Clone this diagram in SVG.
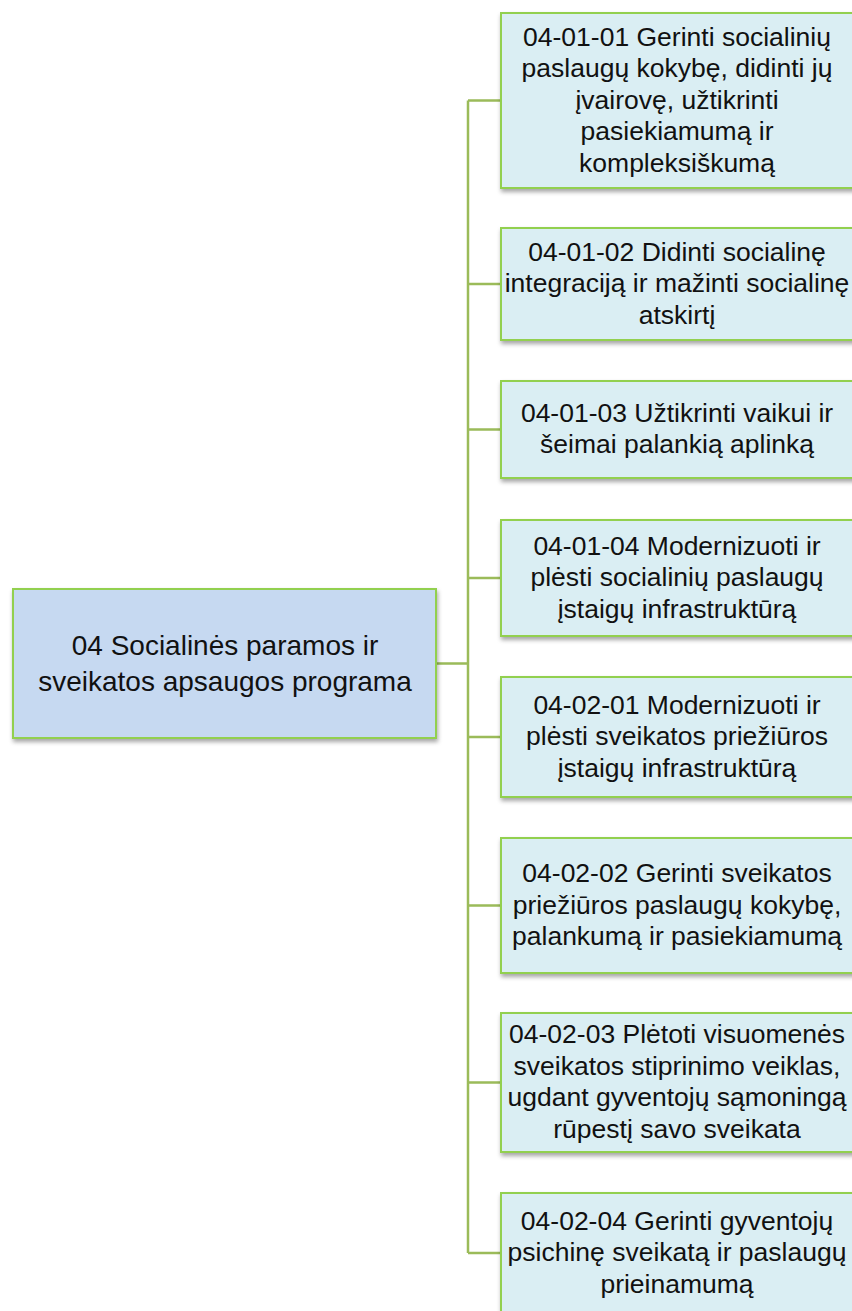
<svg xmlns="http://www.w3.org/2000/svg" width="852" height="1311" viewBox="0 0 852 1311">
<defs>
<filter id="sh" x="-10%" y="-10%" width="130%" height="130%">
<feDropShadow dx="1" dy="3" stdDeviation="2" flood-color="#000" flood-opacity="0.35"/>
</filter>
<style>
.box{fill:#DAEEF3;stroke:#92D050;stroke-width:2;filter:url(#sh)}
.main{fill:#C6D9F1;stroke:#92D050;stroke-width:2;filter:url(#sh)}
.t{font-family:"Liberation Sans",Arial,sans-serif;font-size:26.5px;fill:#111;text-anchor:middle}
.tm{font-family:"Liberation Sans",Arial,sans-serif;font-size:28px;fill:#111;text-anchor:middle}
.c{stroke:#9BBB59;stroke-width:2.5;fill:none}
</style>
</defs>
<rect width="852" height="1311" fill="#fff"/>
<g id="connectors">
<path class="c" d="M436 663.5H468M468 100.5V1253M468 100.5H501M468 284H501M468 429.5H501M468 578H501M468 737H501M468 905.5H501M468 1082.5H501M468 1253H501"/>
</g>
<g id="n0">
<rect class="main" x="13" y="589" width="423" height="149"/>
<text class="tm" x="225" y="654.5">04 Socialinės paramos ir</text>
<text class="tm" x="225" y="690.5">sveikatos apsaugos programa</text>
</g>
<g id="n1">
<rect class="box" x="501" y="13" width="354" height="175"/>
<text class="t" x="677" y="45.5">04-01-01 Gerinti socialinių</text>
<text class="t" x="677" y="77">paslaugų kokybę, didinti jų</text>
<text class="t" x="677" y="108.5">įvairovę, užtikrinti</text>
<text class="t" x="677" y="140">pasiekiamumą ir</text>
<text class="t" x="677" y="171.5">kompleksiškumą</text>
</g>
<g id="n2">
<rect class="box" x="501" y="228" width="354" height="112"/>
<text class="t" x="677" y="260.5">04-01-02 Didinti socialinę</text>
<text class="t" x="677" y="292">integraciją ir mažinti socialinę</text>
<text class="t" x="677" y="323.5">atskirtį</text>
</g>
<g id="n3">
<rect class="box" x="501" y="381" width="354" height="97"/>
<text class="t" x="677" y="421.75">04-01-03 Užtikrinti vaikui ir</text>
<text class="t" x="677" y="453.25">šeimai palankią aplinką</text>
</g>
<g id="n4">
<rect class="box" x="501" y="520" width="354" height="116"/>
<text class="t" x="677" y="554.5">04-01-04 Modernizuoti ir</text>
<text class="t" x="677" y="586">plėsti socialinių paslaugų</text>
<text class="t" x="677" y="617.5">įstaigų infrastruktūrą</text>
</g>
<g id="n5">
<rect class="box" x="501" y="677" width="354" height="120"/>
<text class="t" x="677" y="713.5">04-02-01 Modernizuoti ir</text>
<text class="t" x="677" y="745">plėsti sveikatos priežiūros</text>
<text class="t" x="677" y="776.5">įstaigų infrastruktūrą</text>
</g>
<g id="n6">
<rect class="box" x="501" y="838" width="354" height="135"/>
<text class="t" x="677" y="882">04-02-02 Gerinti sveikatos</text>
<text class="t" x="677" y="913.5">priežiūros paslaugų kokybę,</text>
<text class="t" x="677" y="945">palankumą ir pasiekiamumą</text>
</g>
<g id="n7">
<rect class="box" x="501" y="1013" width="354" height="139"/>
<text class="t" x="677" y="1043.25">04-02-03 Plėtoti visuomenės</text>
<text class="t" x="677" y="1074.75">sveikatos stiprinimo veiklas,</text>
<text class="t" x="677" y="1106.25">ugdant gyventojų sąmoningą</text>
<text class="t" x="677" y="1137.75">rūpestį savo sveikata</text>
</g>
<g id="n8">
<rect class="box" x="501" y="1193" width="354" height="122"/>
<text class="t" x="677" y="1229.5">04-02-04 Gerinti gyventojų</text>
<text class="t" x="677" y="1261">psichinę sveikatą ir paslaugų</text>
<text class="t" x="677" y="1292.5">prieinamumą</text>
</g>
</svg>
